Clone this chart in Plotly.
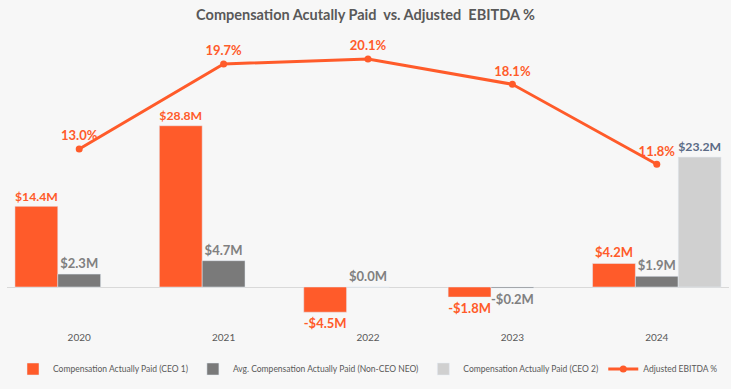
import plotly.graph_objects as go

years = ["2020", "2021", "2022", "2023", "2024"]
ceo1 = [14.4, 28.8, -4.5, -1.8, 4.2]
non_ceo = [2.3, 4.7, 0.0, -0.2, 1.9]
ceo2 = [None, None, None, None, 23.2]
ebitda = [13.0, 19.7, 20.1, 18.1, 11.8]

ORANGE = "#FF5B2A"
DGRAY = "#7A7A7A"
LGRAY = "#D0D0D0"
TXT = "#595959"
FONT = "Lato"

def money(v):
    if v is None:
        return ""
    return ("-$%.1fM" % abs(v)) if v < 0 else ("$%.1fM" % v)

fig = go.Figure()
fig.add_trace(go.Bar(
    x=years, y=ceo1, name="Compensation Actually Paid (CEO 1)",
    marker_color=ORANGE, text=[money(v) for v in ceo1], textposition="outside",
    textfont=dict(color=ORANGE, size=13, family=FONT, weight="bold"), cliponaxis=False))
fig.add_trace(go.Bar(
    x=years, y=non_ceo, name="Avg. Compensation Actually Paid (Non-CEO NEO)",
    marker_color=DGRAY, text=[money(v) for v in non_ceo], textposition="outside",
    textfont=dict(color="#808080", size=13, family=FONT, weight="bold"), cliponaxis=False))
fig.add_trace(go.Bar(
    x=years, y=ceo2, name="Compensation Actually Paid (CEO 2)",
    marker_color=LGRAY, text=[money(v) for v in ceo2], textposition="outside",
    textfont=dict(color="#5B6B86", size=13, family=FONT, weight="bold"), cliponaxis=False))
fig.add_trace(go.Scatter(
    x=years, y=ebitda, name="Adjusted EBITDA %", yaxis="y2", mode="lines+markers+text",
    line=dict(color=ORANGE, width=3), marker=dict(color=ORANGE, size=7),
    text=["%.1f%%" % v for v in ebitda], textposition="top center",
    textfont=dict(color=ORANGE, size=13, family=FONT, weight="bold"), cliponaxis=False))

fig.update_layout(
    width=731, height=389,
    margin=dict(l=7, r=2, t=30, b=59),
    paper_bgcolor="#F7F7F7", plot_bgcolor="#F7F7F7",
    font=dict(family=FONT, color=TXT),
    title=dict(text="<b>Compensation Acutally Paid  vs. Adjusted  EBITDA %</b>",
               x=0.5, xanchor="center", y=0.962, yanchor="middle",
               font=dict(size=14.5, color=TXT, family=FONT)),
    barmode="group", bargap=0.11, bargroupgap=0,
    showlegend=True,
    legend=dict(orientation="h", x=0.5, xanchor="center", y=-0.13, yanchor="middle",
                font=dict(size=8.5, color=TXT, family=FONT), bgcolor="rgba(0,0,0,0)",
                itemwidth=30, tracegroupgap=0, borderwidth=0),
    xaxis=dict(type="category", showgrid=False, showline=False, ticks="",
               tickfont=dict(size=10, color=TXT, family=FONT)),
    yaxis=dict(range=[-7.68, 45.9], showgrid=False, showticklabels=False,
               zeroline=True, zerolinecolor="#D9D9D9", zerolinewidth=1),
    yaxis2=dict(range=[-1.26, 22.38], overlaying="y", side="right", showgrid=False,
                showticklabels=False, zeroline=False),
)
fig.write_html("out.html", config={"displayModeBar": False},
               post_script="document.body.style.margin='0';")
